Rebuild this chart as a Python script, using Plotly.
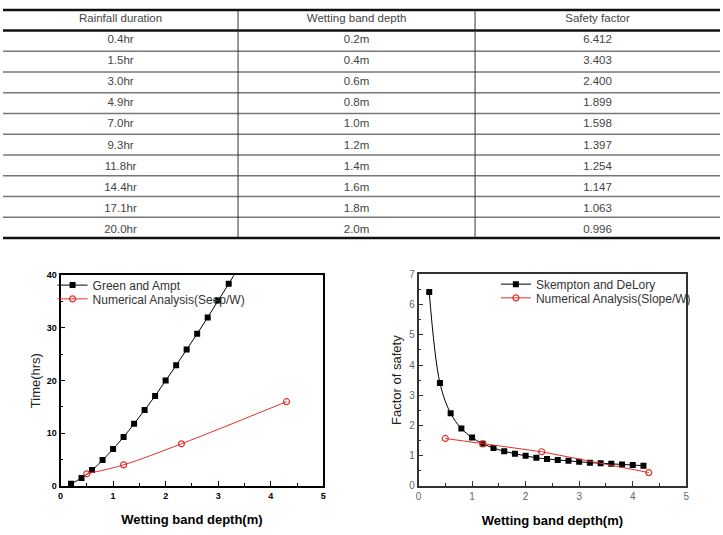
import plotly.graph_objects as go

# ---------------- data ----------------
tbl_header = ["Rainfall duration", "Wetting band depth", "Safety factor"]
tbl_rain = ["0.4hr", "1.5hr", "3.0hr", "4.9hr", "7.0hr", "9.3hr", "11.8hr", "14.4hr", "17.1hr", "20.0hr"]
tbl_depth = ["0.2m", "0.4m", "0.6m", "0.8m", "1.0m", "1.2m", "1.4m", "1.6m", "1.8m", "2.0m"]
tbl_sf = ["6.412", "3.403", "2.400", "1.899", "1.598", "1.397", "1.254", "1.147", "1.063", "0.996"]
tbl_colwidth = [237, 239, 247]

ga_depth = [0.2, 0.4, 0.6, 0.8, 1.0, 1.2, 1.4, 1.6, 1.8, 2.0, 2.2, 2.4, 2.6, 2.8, 3.0, 3.2, 3.4]
ga_time = [0.4, 1.5, 3.0, 4.9, 7.0, 9.3, 11.8, 14.4, 17.1, 20.0, 22.9, 25.9, 28.9, 32.0, 35.2, 38.4, 41.7]
seep_depth = [0.5, 1.2, 2.3, 4.3]
seep_time = [2.3, 4.0, 8.0, 16.0]

sk_depth = [0.2, 0.4, 0.6, 0.8, 1.0, 1.2, 1.4, 1.6, 1.8, 2.0, 2.2, 2.4, 2.6, 2.8, 3.0,
            3.2, 3.4, 3.6, 3.8, 4.0, 4.2]
sk_fs = [6.412, 3.403, 2.400, 1.899, 1.598, 1.397, 1.254, 1.147, 1.063, 0.996, 0.93,
         0.89, 0.86, 0.83, 0.80, 0.77, 0.75, 0.73, 0.71, 0.69, 0.67]
slope_depth = [0.5, 1.2, 2.3, 4.3]
slope_fs = [1.57, 1.39, 1.13, 0.44]

W, H = 723, 535


def px(x):
    return x / W


def py(y):
    return 1 - y / H


TBL_TOP, HEAD_H, ROW_H = 5, 21, 21.2
TFONT = dict(family="Liberation Sans, Arial, sans-serif", size=11.5, color="#444")

fig = go.Figure()

# ---------------- table ----------------
fig.add_trace(go.Table(
    domain=dict(x=[0, 1], y=[py(250), 1]),
    columnwidth=tbl_colwidth,
    header=dict(values=tbl_header, height=HEAD_H, align="center",
                fill_color="white", line=dict(color="white", width=0), font=TFONT),
    cells=dict(values=[tbl_rain, tbl_depth, tbl_sf], height=ROW_H, align="center",
               fill_color="white", line=dict(color="white", width=0), font=TFONT),
))

# ---------------- left chart ----------------
fig.add_trace(go.Scatter(
    x=ga_depth, y=ga_time, mode="lines+markers", name="Green and Ampt",
    line=dict(color="black", width=1, shape="spline"),
    marker=dict(symbol="square", size=6, color="black"),
    xaxis="x", yaxis="y", legend="legend"))
fig.add_trace(go.Scatter(
    x=seep_depth, y=seep_time, mode="lines+markers", name="Numerical Analysis(Seep/W)",
    line=dict(color="#e0302a", width=1, shape="spline"),
    marker=dict(symbol="circle-open", size=6, color="#e0302a", line=dict(width=1.2)),
    xaxis="x", yaxis="y", legend="legend2"))

# ---------------- right chart ----------------
fig.add_trace(go.Scatter(
    x=sk_depth, y=sk_fs, mode="lines+markers", name="Skempton and DeLory",
    line=dict(color="black", width=1, shape="spline"),
    marker=dict(symbol="square", size=6, color="black"),
    xaxis="x2", yaxis="y2", legend="legend3"))
fig.add_trace(go.Scatter(
    x=slope_depth, y=slope_fs, mode="lines+markers", name="Numerical Analysis(Slope/W)",
    line=dict(color="#e0302a", width=1),
    marker=dict(symbol="circle-open", size=6, color="#e0302a", line=dict(width=1.2)),
    xaxis="x2", yaxis="y2", legend="legend4"))

FONT = "Liberation Sans, Arial, sans-serif"


def axis(domain, anchor, rng, dtick, minor, lc, lw, tickfont, title=None, tfont=None, standoff=None):
    d = dict(domain=domain, anchor=anchor, range=rng, dtick=dtick, tick0=0,
             showline=True, linecolor=lc, linewidth=lw, mirror=True,
             ticks="inside", ticklen=5, tickwidth=1.2, tickcolor=lc,
             minor=dict(ticks="inside", ticklen=3, tickwidth=1, tickcolor=lc, dtick=minor),
             showgrid=False, zeroline=False, tickfont=tickfont)
    if title:
        d["title"] = dict(text=title, font=tfont, standoff=standoff)
    return d


tf_left = dict(family=FONT, size=9, color="black", weight="bold")
tf_right = dict(family=FONT, size=10, color="#666")
xt_font = dict(family=FONT, size=13, color="black", weight="bold")
yt_font = dict(family=FONT, size=13, color="#222")

fig.update_layout(
    width=W, height=H, margin=dict(l=0, r=0, t=0, b=0),
    paper_bgcolor="white", plot_bgcolor="white", showlegend=True,
    font=dict(family=FONT),
    xaxis=axis([px(58), px(323)], "y", [0, 5], 1, 0.5, "black", 1.8, tf_left,
               "Wetting band depth(m)", xt_font, 15),
    yaxis=axis([py(491), py(276)], "x", [0, 40], 10, 5, "black", 1.8, tf_left,
               "Time(hrs)", yt_font, 3),
    xaxis2=axis([px(419), px(689)], "y2", [0, 5], 1, 0.5, "#333", 1.5, tf_right,
                "Wetting band depth(m)", xt_font, 15),
    yaxis2=axis([py(491), py(275)], "x2", [0, 7], 1, 0.5, "#333", 1.5, tf_right,
                "Factor of safety", yt_font, 5),
)

leg_common = dict(bgcolor="rgba(0,0,0,0)", borderwidth=0, xanchor="left", yanchor="middle",
                  font=dict(family=FONT, size=12, color="#333"), itemwidth=30)
fig.update_layout(
    legend=dict(x=px(50), y=py(286), **leg_common),
    legend2=dict(x=px(50), y=py(300), **leg_common),
    legend3=dict(x=px(497), y=py(285), **leg_common),
    legend4=dict(x=px(497), y=py(299), **leg_common),
)

# ---------------- table rules ----------------
n_rows = len(tbl_rain)
tbl_bottom = TBL_TOP + HEAD_H + n_rows * ROW_H
for k in range(1, n_rows):
    yy = TBL_TOP + HEAD_H + k * ROW_H
    fig.add_shape(type="line", xref="paper", yref="paper", x0=0, x1=1, y0=py(yy), y1=py(yy),
                  line=dict(color="#777", width=1.5))
for yy in [TBL_TOP, TBL_TOP + HEAD_H, tbl_bottom]:
    fig.add_shape(type="line", xref="paper", yref="paper", x0=0, x1=1, y0=py(yy), y1=py(yy),
                  line=dict(color="#111", width=2.5))
acc = 0
for cw in tbl_colwidth[:-1]:
    acc += cw
    fig.add_shape(type="line", xref="paper", yref="paper", x0=acc / sum(tbl_colwidth),
                  x1=acc / sum(tbl_colwidth), y0=py(TBL_TOP), y1=py(tbl_bottom),
                  line=dict(color="#333", width=1))

fig.write_html("out.html")
